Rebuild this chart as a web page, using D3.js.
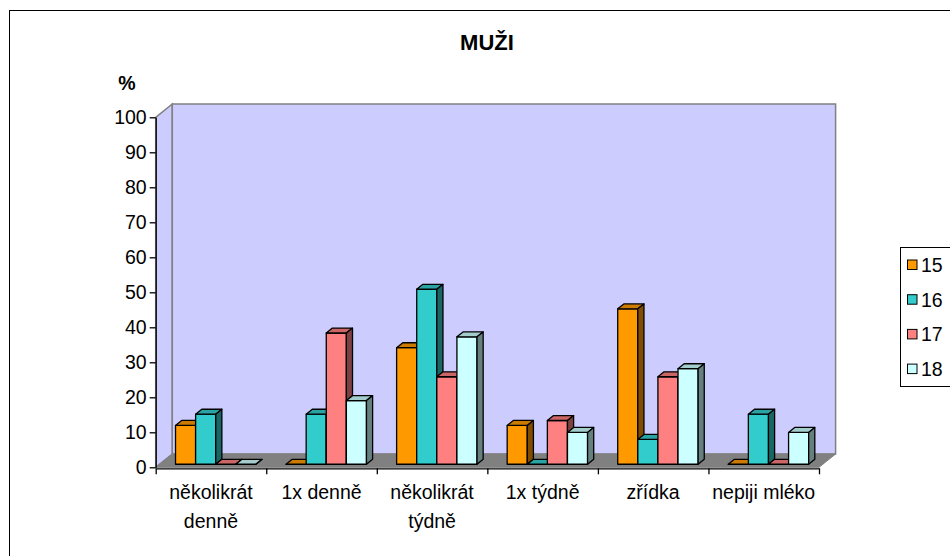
<!DOCTYPE html>
<html>
<head>
<meta charset="utf-8">
<script src="https://cdn.jsdelivr.net/npm/d3@7"></script>
<style>
  html, body { margin: 0; padding: 0; background: #fff; }
  svg { display: block; font-family: "Liberation Sans", Arial, sans-serif; }
</style>
</head>
<body>
<svg id="chart" width="950" height="556"></svg>
<script>
// Frequency of milk drinking among men, by age (percent)
const categories = ["několikrát denně", "1x denně", "několikrát týdně", "1x týdně", "zřídka", "nepiji mléko"];
const series = ["15", "16", "17", "18"];
const age15 = [11.1, 0, 33.3, 11.1, 44.4, 0];
const age16 = [14.3, 14.3, 50.0, 0, 7.1, 14.3];
const age17 = [0, 37.5, 25.0, 12.5, 25.0, 0];
const age18 = [0, 18.2, 36.4, 9.1, 27.3, 9.1];
const valueTicks = [0, 10, 20, 30, 40, 50, 60, 70, 80, 90, 100];
const colors = ["#FF9900", "#33CCCC", "#FF8080", "#CCFFFF"];

const values = [age15, age16, age17, age18];

const svg = d3.select("#chart");

// outer chart frame (runs past the right and bottom edges)
svg.append("rect")
  .attr("x", 9.5).attr("y", 10.5).attr("width", 1000).attr("height", 1000)
  .attr("fill", "#fff").attr("stroke", "#000").attr("stroke-width", 1);

// plot geometry
const y = d3.scaleLinear().domain([0, 100]).range([467.3, 117.3]);
const x = d3.scaleBand().domain(categories).range([155.7, 819]);
const xs = d3.scaleBand().domain(series).range([16, 96.4]);
const DX = 16.6, DY = 13.3;       // oblique depth offset of the walls
const D0 = 0.23, D1 = 0.6;        // bar depth span inside the floor

const p = (px, v, d) => [px + d * DX, y(v) - d * DY];
const poly = pts => "M" + pts.map(q => q.join(",")).join("L") + "Z";

const [xL, xR] = x.range();
const [y0, y100] = y.range();

// left wall
svg.append("path")
  .attr("d", poly([[xL, y100], p(xL, 100, 1), p(xL, 0, 1), [xL, y0]]))
  .attr("fill", "#CCCCFF").attr("stroke", "#808080").attr("stroke-width", 1.5);

// back wall
svg.append("path")
  .attr("d", poly([p(xL, 100, 1), p(xR, 100, 1), p(xR, 0, 1), p(xL, 0, 1)]))
  .attr("fill", "#CCCCFF").attr("stroke", "#808080").attr("stroke-width", 1.5);

// floor
svg.append("path")
  .attr("d", poly([[xL, y0], [xR, y0], p(xR, 0, 1), p(xL, 0, 1)]))
  .attr("fill", "#808080").attr("stroke", "#808080").attr("stroke-width", 1);

// bars, drawn left to right so later fronts cover earlier sides
const bars = svg.append("g").attr("stroke", "#000").attr("stroke-width", 1.3).attr("stroke-linejoin", "round");
categories.forEach((cat, ci) => {
  series.forEach((s, si) => {
    const v = values[si][ci];
    const x0 = x(cat) + xs(s);
    const x1 = x0 + xs.bandwidth();
    const c = d3.color(colors[si]);
    const shade = k => d3.rgb(c.r * k, c.g * k, c.b * k).formatHex();
    const g = bars.append("g");
    g.append("path")
      .attr("d", poly([p(x0, 0, D0), p(x1, 0, D0), p(x1, v, D0), p(x0, v, D0)]))
      .attr("fill", colors[si]);
    g.append("path")
      .attr("d", poly([p(x0, v, D0), p(x1, v, D0), p(x1, v, D1), p(x0, v, D1)]))
      .attr("fill", shade(0.8));
    g.append("path")
      .attr("d", poly([p(x1, 0, D0), p(x1, 0, D1), p(x1, v, D1), p(x1, v, D0)]))
      .attr("fill", shade(0.5));
  });
});

// value axis
const yAxis = svg.append("g")
  .attr("transform", `translate(${xL},0)`)
  .call(d3.axisLeft(y).tickValues(valueTicks).tickSize(6).tickPadding(3).tickSizeOuter(0));
yAxis.select(".domain").attr("stroke", "#000").attr("stroke-width", 1.3);
yAxis.selectAll(".tick line").attr("stroke", "#000").attr("stroke-width", 1.3);
yAxis.selectAll(".tick text")
  .attr("font-size", "19.5px").attr("fill", "#000")
  .attr("font-family", "Liberation Sans, Arial, sans-serif");

// category axis: ticks on band boundaries, labels centred in bands
const bounds = categories.map(c => x(c)).concat([xR]);
const xEdge = d3.scaleLinear().domain([xL, xR]).range([xL, xR]);
const xAxis = svg.append("g")
  .attr("transform", `translate(0,${y0 + 1})`)
  .call(d3.axisBottom(xEdge).tickValues(bounds).tickFormat("").tickSize(6).tickSizeOuter(0));
xAxis.select(".domain").attr("stroke", "#000").attr("stroke-width", 1.3);
xAxis.selectAll(".tick line").attr("stroke", "#000").attr("stroke-width", 1.3);

// wrapped category labels
const labels = svg.append("g")
  .attr("font-size", "19.5px").attr("fill", "#000").attr("text-anchor", "middle");
categories.forEach(cat => {
  const t = labels.append("text")
    .attr("x", x(cat) + x.bandwidth() / 2)
    .attr("y", y0 + 32);
  const words = cat.split(" ");
  let line = [];
  let lineNo = 0;
  let ts = t.append("tspan").attr("x", x(cat) + x.bandwidth() / 2).attr("dy", 0);
  words.forEach(w => {
    line.push(w);
    ts.text(line.join(" "));
    if (ts.node().getComputedTextLength() > x.bandwidth() - 4 && line.length > 1) {
      line.pop();
      ts.text(line.join(" "));
      line = [w];
      lineNo++;
      ts = t.append("tspan").attr("x", x(cat) + x.bandwidth() / 2).attr("dy", 29).text(w);
    }
  });
});

// title and unit
svg.append("text")
  .attr("x", 487).attr("y", 49.5)
  .attr("text-anchor", "middle")
  .attr("font-size", "22px").attr("font-weight", "bold")
  .text("MUŽI");
svg.append("text")
  .attr("x", 127).attr("y", 90)
  .attr("text-anchor", "middle")
  .attr("font-size", "19.5px").attr("font-weight", "bold")
  .text("%");

// legend
const legend = svg.append("g");
legend.append("rect")
  .attr("x", 900.5).attr("y", 247.5).attr("width", 100).attr("height", 139)
  .attr("fill", "#fff").attr("stroke", "#000").attr("stroke-width", 1);
series.forEach((s, i) => {
  const cy = 265 + i * 34.7;
  legend.append("rect")
    .attr("x", 907.5).attr("y", cy - 5).attr("width", 9.5).attr("height", 9.5)
    .attr("fill", colors[i]).attr("stroke", "#000").attr("stroke-width", 1);
  legend.append("text")
    .attr("x", 921).attr("y", cy + 7)
    .attr("font-size", "19.5px")
    .text(s);
});
</script>
</body>
</html>
